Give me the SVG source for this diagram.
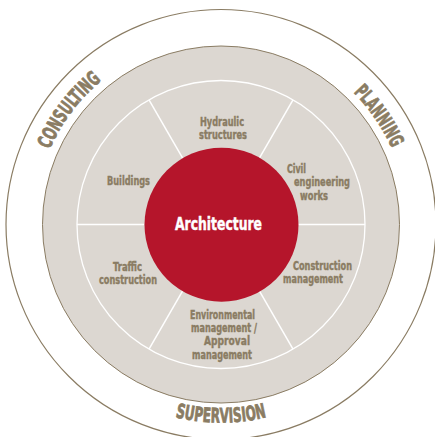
<svg xmlns="http://www.w3.org/2000/svg" width="435" height="437" viewBox="0 0 435 437">
<style>
.bg{fill:#ffffff}
.outer{fill:none;stroke:#8a7c63;stroke-width:1.2}
.disk{fill:#dcd7d1;stroke:#8a7c63;stroke-width:1}
.ring{fill:none;stroke:#ffffff;stroke-width:1.3}
.div{stroke:#ffffff;stroke-width:1.5}
.core{fill:#b5152b}
.lbl{font-family:'DejaVu Sans Condensed','Liberation Sans',sans-serif;font-weight:bold;font-size:12px;fill:#8a7c63;stroke:#8a7c63;stroke-width:0.4;text-anchor:middle}
.arc{font-family:'DejaVu Sans Condensed','Liberation Sans',sans-serif;font-weight:bold;font-size:20px;fill:#8a7c63;stroke:#8a7c63;stroke-width:0.8}
.title{font-family:'DejaVu Sans Condensed','Liberation Sans',sans-serif;font-weight:bold;font-size:18px;fill:#ffffff;stroke:#ffffff;stroke-width:0.45;text-anchor:middle}
</style>
<defs>
<path id="pCons" d="M 38.8 266.6 A 187 187 0 0 1 211.2 37.7"/>
<path id="pPlan" d="M 238.9 38.4 A 187 187 0 0 1 401.2 274.5"/>
<path id="pSup" d="M 69.3 351.8 A 198 198 0 0 0 372.7 351.8"/>
</defs>
<rect class="bg" x="0" y="0" width="435" height="437"/>
<g id="outer-ring">
<circle class="outer" cx="221" cy="224.5" r="215"/>
<text class="arc"><textPath href="#pCons" startOffset="50%" text-anchor="middle" textLength="87" lengthAdjust="spacingAndGlyphs">CONSULTING</textPath></text>
<text class="arc"><textPath href="#pPlan" startOffset="50%" text-anchor="middle" textLength="68" lengthAdjust="spacingAndGlyphs">PLANNING</textPath></text>
<text class="arc"><textPath href="#pSup" startOffset="50%" text-anchor="middle" textLength="92" lengthAdjust="spacingAndGlyphs">SUPERVISION</textPath></text>
</g>
<g id="disk">
<circle class="disk" cx="221" cy="224.5" r="178.5"/>
<circle class="ring" cx="221" cy="224.5" r="144"/>
</g>
<g id="connectors">
<line class="div" x1="298" y1="224.5" x2="365" y2="224.5"/>
<line class="div" x1="144" y1="224.5" x2="77" y2="224.5"/>
<line class="div" x1="259.5" y1="291.2" x2="293" y2="349.2"/>
<line class="div" x1="182.5" y1="291.2" x2="149" y2="349.2"/>
<line class="div" x1="182.5" y1="157.8" x2="149" y2="99.8"/>
<line class="div" x1="259.5" y1="157.8" x2="293" y2="99.8"/>
</g>
<g id="hydraulic">
<text class="lbl" x="222" y="126" textLength="44" lengthAdjust="spacingAndGlyphs">Hydraulic</text>
<text class="lbl" x="223" y="139" textLength="48" lengthAdjust="spacingAndGlyphs">structures</text>
</g>
<g id="civil">
<text class="lbl" x="296.5" y="173" textLength="19" lengthAdjust="spacingAndGlyphs">Civil</text>
<text class="lbl" x="322" y="186" textLength="56" lengthAdjust="spacingAndGlyphs">engineering</text>
<text class="lbl" x="314" y="199.5" textLength="28" lengthAdjust="spacingAndGlyphs">works</text>
</g>
<g id="construction-mgmt">
<text class="lbl" x="322.5" y="270" textLength="59" lengthAdjust="spacingAndGlyphs">Construction</text>
<text class="lbl" x="313" y="283" textLength="60" lengthAdjust="spacingAndGlyphs">management</text>
</g>
<g id="environmental">
<text class="lbl" x="222.5" y="319" textLength="65" lengthAdjust="spacingAndGlyphs">Environmental</text>
<text class="lbl" x="224" y="332" textLength="66" lengthAdjust="spacingAndGlyphs">management /</text>
<text class="lbl" x="227" y="345" textLength="46" lengthAdjust="spacingAndGlyphs">Approval</text>
<text class="lbl" x="222" y="358.5" textLength="60" lengthAdjust="spacingAndGlyphs">management</text>
</g>
<g id="traffic">
<text class="lbl" x="127.5" y="271" textLength="29" lengthAdjust="spacingAndGlyphs">Traffic</text>
<text class="lbl" x="128" y="284" textLength="58" lengthAdjust="spacingAndGlyphs">construction</text>
</g>
<g id="buildings">
<text class="lbl" x="128.5" y="185" textLength="43" lengthAdjust="spacingAndGlyphs">Buildings</text>
</g>
<g id="architecture">
<circle class="core" cx="221.5" cy="224.7" r="77"/>
<text class="title" x="218.5" y="230" textLength="87" lengthAdjust="spacingAndGlyphs">Architecture</text>
</g>
</svg>
